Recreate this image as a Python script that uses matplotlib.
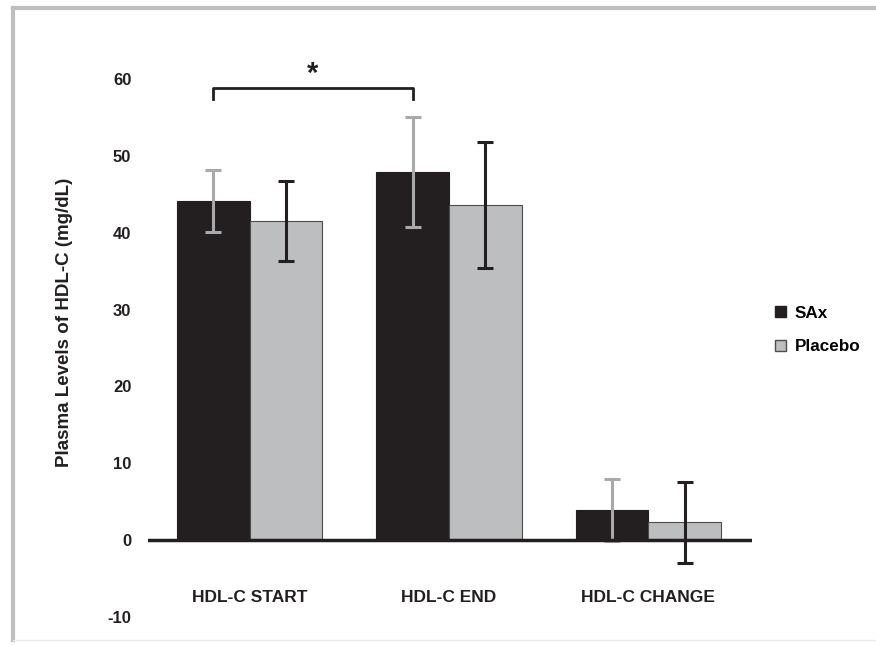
import numpy as np
import matplotlib
matplotlib.use("Agg")
import matplotlib.pyplot as plt
from matplotlib.lines import Line2D
from matplotlib.patches import Patch

plt.rcParams['font.family'] = ['Liberation Sans', 'DejaVu Sans']
plt.rcParams['font.weight'] = 'bold'
plt.rcParams['axes.unicode_minus'] = False

categories = ["HDL-C START", "HDL-C END", "HDL-C CHANGE"]
sax_mean = [44.1, 47.9, 3.9]
sax_err = [4.05, 7.2, 4.05]
placebo_mean = [41.5, 43.6, 2.3]
placebo_err = [5.2, 8.15, 5.3]
yticks = [-10, 0, 10, 20, 30, 40, 50, 60]

sax_color = "#231f20"
placebo_color = "#bcbec0"

fig = plt.figure(figsize=(8.76, 6.46), dpi=100)
ax = fig.add_axes([148 / 876, 1 - 617 / 646, 604 / 876, 538 / 646])

x = np.arange(len(categories))
w = 0.365
ax.bar(x - w / 2, sax_mean, w, color=sax_color, edgecolor=sax_color, linewidth=0.8)
ax.bar(x + w / 2, placebo_mean, w, color=placebo_color, edgecolor="#4d4d4d", linewidth=0.8)
ax.errorbar(x - w / 2, sax_mean, yerr=sax_err, fmt="none", ecolor="#a7a9ac",
            elinewidth=2.2, capsize=5.5, capthick=2.2)
ax.errorbar(x + w / 2, placebo_mean, yerr=placebo_err, fmt="none", ecolor="#231f20",
            elinewidth=2.2, capsize=5.5, capthick=2.2)

ax.axhline(0, color="#231f20", lw=2.5)
ax.set_xlim(-0.51, 2.52)
ax.set_ylim(-10, 60)
for s in ax.spines.values():
    s.set_visible(False)
ax.set_xticks([])
ax.set_yticks(yticks)
ax.tick_params(axis="y", length=0, pad=12, labelsize=12, labelcolor="#231f20")

for i, c in enumerate(categories):
    ax.text(x[i], -7.4, c, ha="center", va="center", fontsize=12.5, fontweight="bold",
            color="#231f20")

# significance bracket
bx = [x[0] - w / 2, x[0] - w / 2, x[1] - w / 2, x[1] - w / 2]
ax.plot(bx, [57.4, 58.8, 58.8, 57.4], color="#231f20", lw=2, clip_on=False)
ax.text((x[0] + x[1]) / 2 - w / 2, 60.6, "*", ha="center", va="center", fontsize=21,
        fontweight="bold", color="#231f20", clip_on=False)

fig.text(65 / 876, 1 - 322 / 646, "Plasma Levels of HDL-C (mg/dL)", rotation=90,
         ha="center", va="center", fontsize=13.5, fontweight="bold", color="#231f20")

handles = [Patch(facecolor=sax_color, edgecolor=sax_color, label="SAx"),
           Patch(facecolor=placebo_color, edgecolor="#4d4d4d", label="Placebo")]
fig.legend(handles=handles, loc="center left", bbox_to_anchor=(760 / 876, 1 - 330 / 646),
           frameon=False, fontsize=12.3, handlelength=0.65, handleheight=0.65,
           handletextpad=0.5, labelspacing=1.1)

# light grey frame around the figure
fig.add_artist(Line2D([13 / 876, 13 / 876], [1 - 640 / 646, 1 - 8 / 646], color="#bfbfbf",
                      lw=3, transform=fig.transFigure))
fig.add_artist(Line2D([13 / 876, 1], [1 - 8 / 646, 1 - 8 / 646], color="#bfbfbf",
                      lw=3, transform=fig.transFigure))
fig.add_artist(Line2D([13 / 876, 1], [1 - 640 / 646, 1 - 640 / 646], color="#ececec",
                      lw=1, transform=fig.transFigure))

fig.savefig("out.png", dpi=100)
